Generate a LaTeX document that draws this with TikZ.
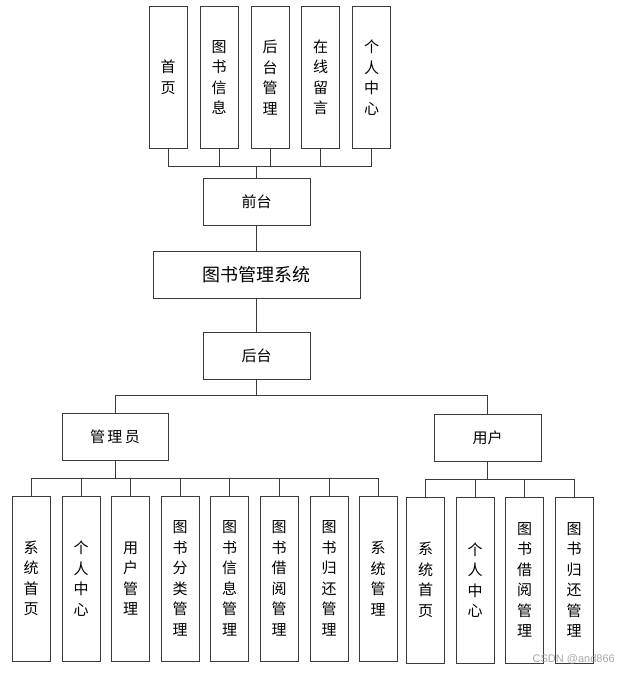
\documentclass[tikz,border=0pt]{standalone}
\usepackage{fontspec}
\newfontfamily\cjk{Noto Sans CJK SC}
\newfontfamily\wmfont{Liberation Sans}
\usetikzlibrary{positioning,calc}
\definecolor{bkline}{HTML}{3A3A3A}
\definecolor{bkmark}{HTML}{A8A8A8}

\begin{document}
\begin{tikzpicture}[x=1pt,y=-1pt,
  box/.style={draw=bkline,line width=1pt,inner sep=0pt,align=center,
    font=\cjk\fontsize{15}{20.5}\selectfont},
  tallbox/.style={box,minimum width=38pt},
  widebox/.style={box,minimum width=107pt,minimum height=47pt},
  link/.style={draw=bkline,line width=1pt}]
\useasboundingbox (0,0) rectangle (630,674);

% front end
\node[widebox] (front) at (256.5,201.5) {前台};
\coordinate (frontbus) at (256.5,166);
\draw[link] (front.north) -- (frontbus);
\foreach \x/\nm/\txt in {168/fhome/{首\\页},219/fbook/{图\\书\\信\\息},
    270/fadmin/{后\\台\\管\\理},320.5/fmsg/{在\\线\\留\\言},371.5/fme/{个\\人\\中\\心}}{
  \node[tallbox,minimum height=141pt] (\nm) at (\x,77.5) {\txt};
  \draw[link] (\nm.south) |- (frontbus);
}

% system
\node[box,minimum width=207pt,minimum height=47pt,
  font=\cjk\fontsize{18}{22}\selectfont] (sys) at (256.5,274.5) {图书管理系统};
\node[widebox] (back) at (256.5,355.5) {后台};
\draw[link] (front) -- (sys);
\draw[link] (sys) -- (back);

% back end
\node[widebox,minimum width=106pt] (admin) at (115,436.5) {管\,理\,员};
\node[widebox] (user) at (487.5,437.5) {用户};
\coordinate (backbus) at (256.5,395);
\draw[link] (back.south) -- (backbus) -| (admin.north);
\draw[link] (backbus) -| (user.north);

% admin modules
\coordinate (adminbus) at (115,478);
\draw[link] (admin.south) -- (adminbus);
\foreach \x/\nm/\txt in {31/ahome/{系\\统\\首\\页},81/ame/{个\\人\\中\\心},
    130.5/auser/{用\\户\\管\\理},180/acat/{图\\书\\分\\类\\管\\理},
    229.5/abook/{图\\书\\信\\息\\管\\理},279/aborrow/{图\\书\\借\\阅\\管\\理},
    329/areturn/{图\\书\\归\\还\\管\\理},378/asys/{系\\统\\管\\理}}{
  \node[tallbox,minimum height=165pt] (\nm) at (\x,578.5) {\txt};
  \draw[link] (adminbus) -| (\nm.north);
}

% user modules
\coordinate (userbus) at (487.5,479);
\draw[link] (user.south) -- (userbus);
\foreach \x/\nm/\txt in {425.5/uhome/{系\\统\\首\\页},475/ume/{个\\人\\中\\心},
    524.5/uborrow/{图\\书\\借\\阅\\管\\理},574/ureturn/{图\\书\\归\\还\\管\\理}}{
  \node[tallbox,minimum height=166pt] (\nm) at (\x,580) {\txt};
  \draw[link] (userbus) -| (\nm.north);
}

\node[bkmark,font=\wmfont\fontsize{11}{12}\selectfont,anchor=east,inner sep=0pt]
  (mark) at (615,659) {CSDN @and866};
\end{tikzpicture}
\end{document}
